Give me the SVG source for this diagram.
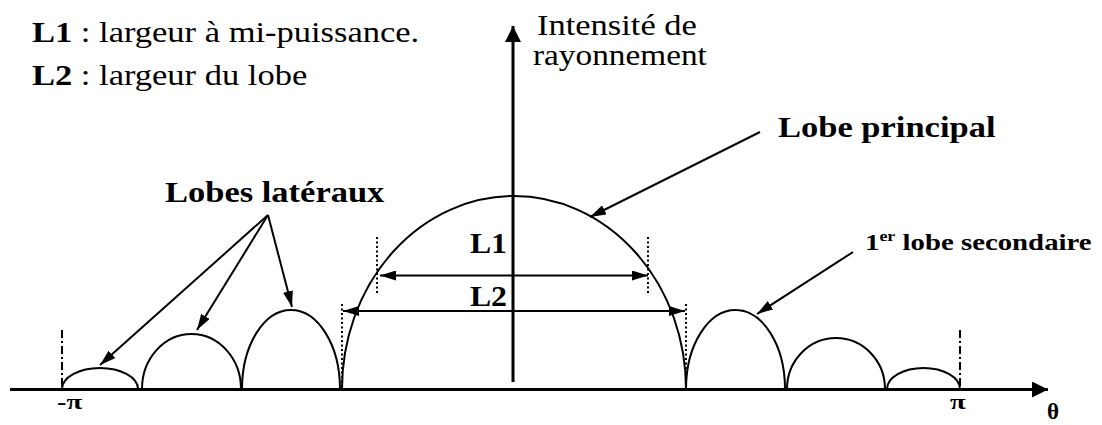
<svg xmlns="http://www.w3.org/2000/svg" width="1102" height="425" viewBox="0 0 1102 425">
<style>
  .serif { font-family: "Liberation Serif", "Times New Roman", serif; fill: #000; }
  .b { font-weight: bold; }
  .lobe { fill: none; stroke: #000; stroke-width: 2; }
  .axis { fill: none; stroke: #000; stroke-width: 3; }
  .conn { fill: none; stroke: #000; stroke-width: 2; }
  .dot { fill: none; stroke: #000; stroke-width: 2; stroke-dasharray: 2 2.5; }
  .dashdot { fill: none; stroke: #000; stroke-width: 2; stroke-dasharray: 8 3 2 3; }
</style>
<defs>
  <marker id="ah" viewBox="0 0 16 10" refX="16" refY="5" markerWidth="16" markerHeight="10" markerUnits="userSpaceOnUse" orient="auto-start-reverse">
    <path d="M0,0 L16,5 L0,10 z" fill="#000"/>
  </marker>
  <marker id="axh" viewBox="0 0 16 16" refX="16" refY="8" markerWidth="16" markerHeight="16" markerUnits="userSpaceOnUse" orient="auto">
    <path d="M0,0 L16,8 L0,16 z" fill="#000"/>
  </marker>
</defs>
<rect width="1102" height="425" fill="#fff"/>

<g id="legend">
  <text class="serif" font-size="30" transform="translate(32 42) scale(1.15 1)"><tspan class="b">L1</tspan> : largeur à mi-puissance.</text>
  <text class="serif" font-size="30" transform="translate(32 85) scale(1.15 1)"><tspan class="b">L2</tspan> : largeur du lobe</text>
</g>

<g id="axes">
  <line class="axis" x1="10" y1="389.5" x2="1048" y2="389.5" marker-end="url(#axh)"/>
  <line class="axis" x1="513" y1="382" x2="513" y2="26" marker-end="url(#axh)"/>
  <text class="serif" font-size="30" transform="translate(537 35) scale(1.15 1)">Intensité de</text>
  <text class="serif" font-size="30" transform="translate(533 65) scale(1.11 1)">rayonnement</text>
  <text class="serif b" font-size="22" transform="translate(57 409) scale(1.3 1)">-π</text>
  <text class="serif b" font-size="22" transform="translate(950 409) scale(1.3 1)">π</text>
  <text class="serif b" font-size="23" x="1047" y="419">θ</text>
</g>

<g id="main-lobe">
  <path class="lobe" d="M342,389 A172,193 0 0 1 686,389"/>
</g>

<g id="side-lobes-left">
  <path class="lobe" d="M62,389 A38,21 0 0 1 138,389"/>
  <path class="lobe" d="M142,389 A49.5,55 0 0 1 241,389"/>
  <path class="lobe" d="M242,389 A49,79 0 0 1 340,389"/>
</g>

<g id="side-lobes-right">
  <path class="lobe" d="M686,389 A49.5,79 0 0 1 785,389"/>
  <path class="lobe" d="M787,389 A49,51 0 0 1 885,389"/>
  <path class="lobe" d="M887,389 A36.5,21 0 0 1 960,389"/>
</g>

<g id="guides">
  <line class="dashdot" x1="62" y1="330" x2="62" y2="388"/>
  <line class="dashdot" x1="960" y1="330" x2="960" y2="388"/>
  <line class="dot" x1="377" y1="237" x2="377" y2="293"/>
  <line class="dot" x1="648" y1="237" x2="648" y2="293"/>
  <line class="dot" x1="342" y1="304" x2="342" y2="386"/>
  <line class="dot" x1="686" y1="304" x2="686" y2="386"/>
</g>

<g id="label-L1">
  <text class="serif b" font-size="30" text-anchor="end" transform="translate(507 253) scale(1.06 1)">L1</text>
</g>
<g id="label-L2">
  <text class="serif b" font-size="30" text-anchor="end" transform="translate(507 306) scale(1.06 1)">L2</text>
</g>

<g id="label-lobes-lateraux">
  <text class="serif b" font-size="30" transform="translate(165 202) scale(1.15 1)">Lobes latéraux</text>
</g>
<g id="label-lobe-principal">
  <text class="serif b" font-size="30" transform="translate(778 137) scale(1.15 1)">Lobe principal</text>
</g>
<g id="label-premier-lobe">
  <text class="serif b" font-size="24" transform="translate(865 250) scale(1.2 1)">1<tspan font-size="15" dy="-9">er</tspan><tspan dy="9"> lobe secondaire</tspan></text>
</g>

<g id="connectors">
  <line class="conn" x1="380" y1="275.5" x2="648" y2="275.5" marker-start="url(#ah)" marker-end="url(#ah)"/>
  <line class="conn" x1="343" y1="311" x2="685" y2="311" marker-start="url(#ah)" marker-end="url(#ah)"/>
  <line class="conn" x1="268" y1="215" x2="100" y2="365" marker-end="url(#ah)"/>
  <line class="conn" x1="268" y1="215" x2="197" y2="330" marker-end="url(#ah)"/>
  <line class="conn" x1="268" y1="215" x2="292" y2="307" marker-end="url(#ah)"/>
  <line class="conn" x1="760" y1="132" x2="590" y2="217" marker-end="url(#ah)"/>
  <line class="conn" x1="853" y1="252" x2="757" y2="314" marker-end="url(#ah)"/>
</g>
</svg>
